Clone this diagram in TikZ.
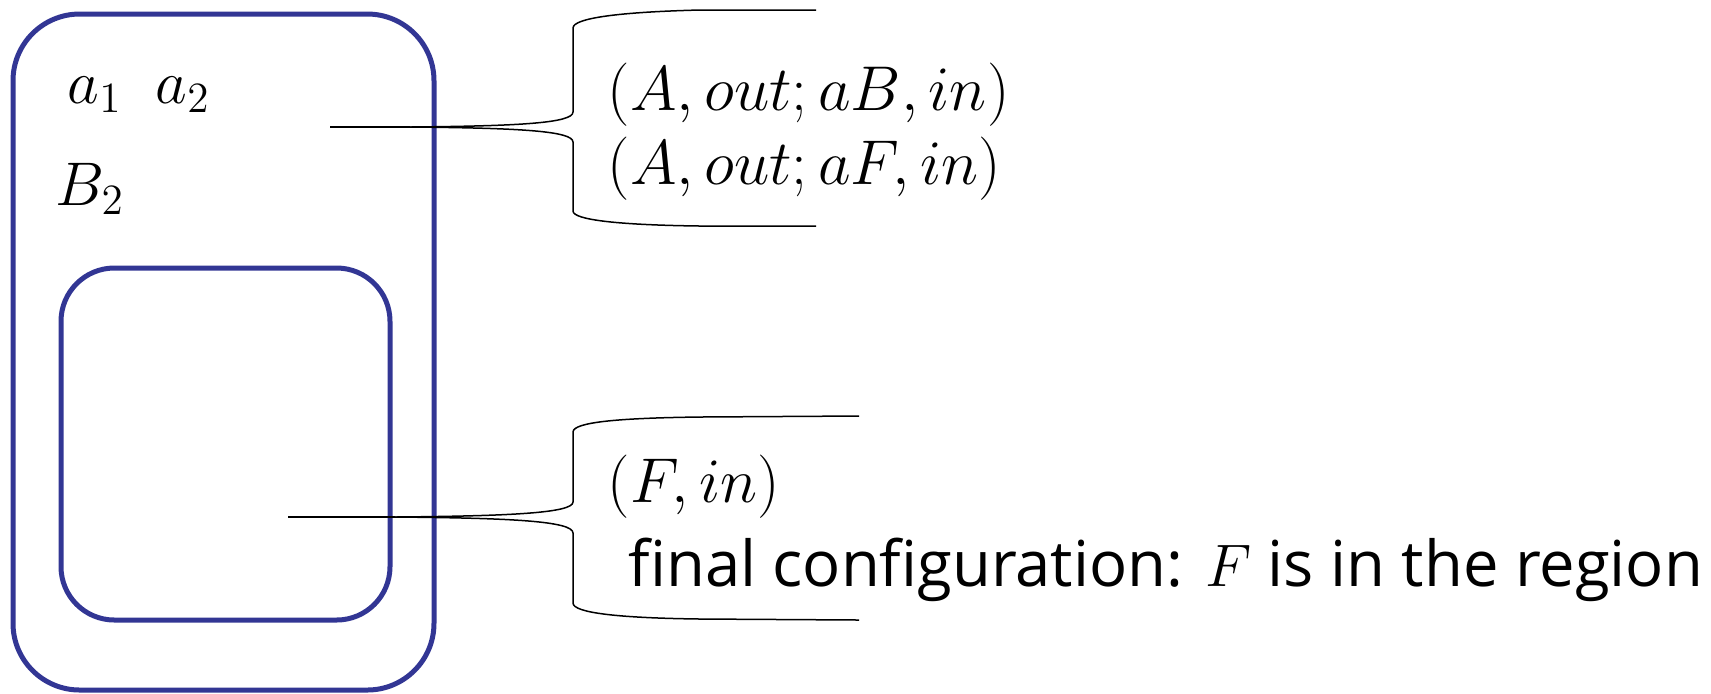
\RequirePackage{fix-cm}
\documentclass[tikz,border=0pt]{standalone}
\usepackage{fontspec}
\newfontfamily\osans[Ligatures=NoCommon]{Open Sans}
\definecolor{regblue}{RGB}{50,54,148}
\tikzset{
  region/.style={draw=regblue, line width=1.5pt, inner sep=0pt},
  callout/.style={draw=black, line width=0.45pt},
  tipline/.style={draw=black, line width=0.75pt},
  lbl/.style={inner sep=0pt, anchor=base west, font=\fontsize{18.5}{20}\selectfont},
  mathlbl/.style={inner sep=0pt, anchor=west, font=\fontsize{19}{21}\selectfont},
  sanslbl/.style={inner sep=0pt, anchor=base west, font=\osans\fontsize{19}{22}\selectfont},
}
\begin{document}
\begin{tikzpicture}[x=0.3pt,y=-0.3pt]
\useasboundingbox (0,0) rectangle (1711,693);
% regions
\node[region, rounded corners=20pt, minimum width=126.3pt, minimum height=202.8pt] (outer) at (223.5,352) {};
\node[region, rounded corners=16pt, minimum width=98.7pt, minimum height=105.6pt] (inner) at (225.5,444) {};
% labels in the outer region
\node[lbl] (a1) at (67,103) {$a_1$};
\node[lbl] (a2) at (155,103) {$a_2$};
\node[lbl] (b2) at (55,205) {$B_2$};
% upper callout
\coordinate (t1) at (330,127);
\coordinate (s1) at (410,127);
\coordinate (e1a) at (816,10);
\coordinate (e1b) at (816,226);
\draw[tipline] (t1) -- (s1);
\draw[callout] (s1) .. controls (520,126) and (573,123) .. (573,112) -- (573,28) .. controls (573,18) and (620,12) .. (700,10) -- (e1a);
\draw[callout] (s1) .. controls (520,128) and (573,131) .. (573,142) -- (573,211) .. controls (573,220) and (620,225) .. (700,226) -- (e1b);
% lower callout
\coordinate (t2) at (288,517);
\coordinate (s2) at (395,517);
\coordinate (e2a) at (859,416);
\coordinate (e2b) at (859,620);
\draw[tipline] (t2) -- (s2);
\draw[callout] (s2) .. controls (510,516) and (573,513) .. (573,502) -- (573,432) .. controls (573,422) and (620,418) .. (700,417) -- (e2a);
\draw[callout] (s2) .. controls (510,518) and (573,521) .. (573,533) -- (573,603) .. controls (573,613) and (620,618) .. (700,619) -- (e2b);
% texts
\node[mathlbl] (m1) at (607,95) {$(A,out;aB,in)$};
\node[mathlbl] (m2) at (607,169) {$(A,out;aF,in)$};
\node[mathlbl] (m3) at (607,487) {$(F,in)$};
\node[sanslbl] (fc) at (628,586) {final configuration: {\fontsize{18}{20}\selectfont$F$} is in the region};
\end{tikzpicture}
\end{document}
